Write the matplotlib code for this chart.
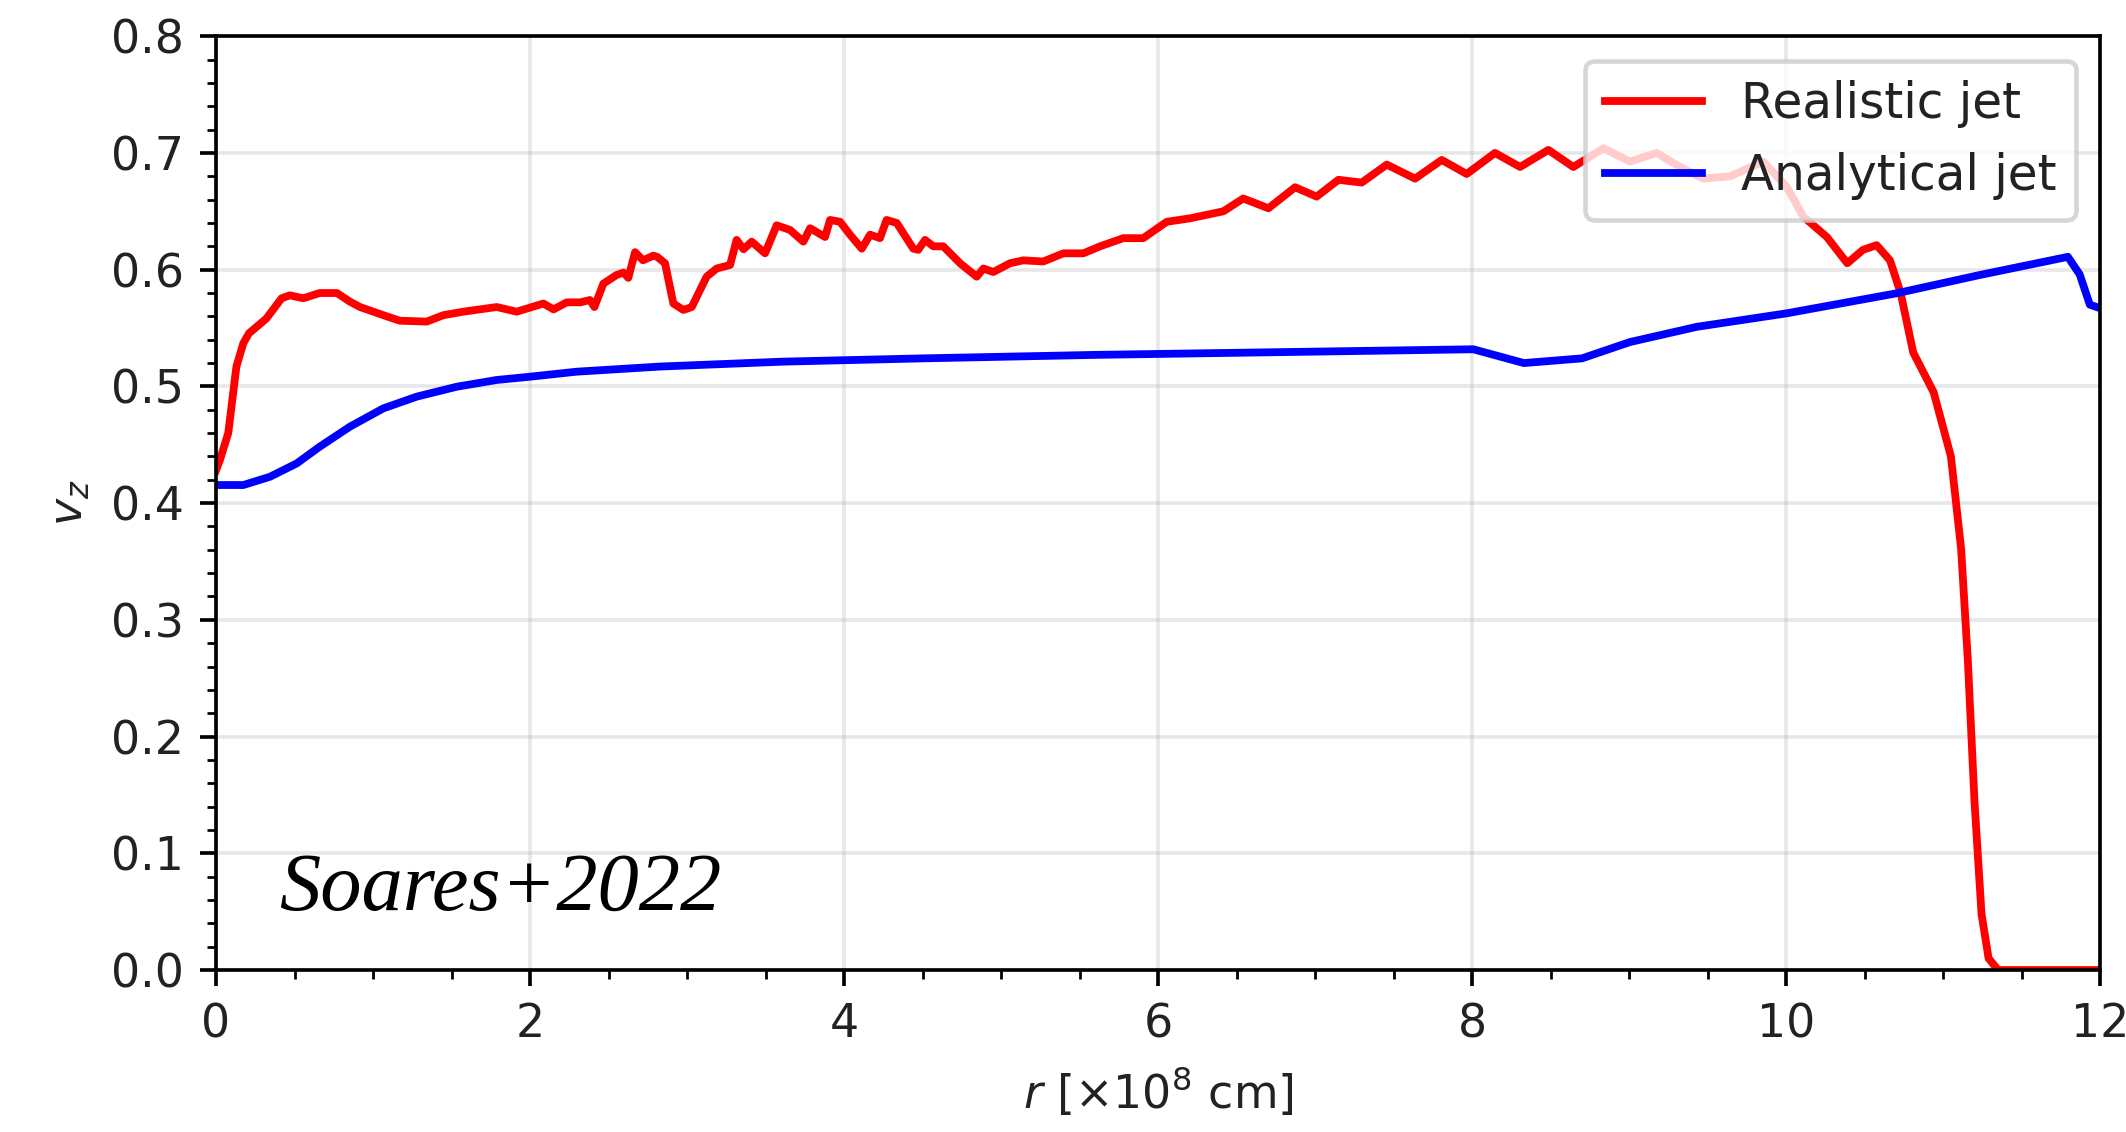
import matplotlib
matplotlib.use("Agg")
import matplotlib.pyplot as plt
from matplotlib.ticker import MultipleLocator

# Realistic jet
realistic_r = [0.0, 0.025, 0.078, 0.13, 0.174, 0.21, 0.32, 0.418, 0.47, 0.556,
               0.66, 0.77, 0.853, 0.917, 1.066, 1.17, 1.342, 1.448, 1.575, 1.788,
               1.915, 2.085, 2.15, 2.234, 2.32, 2.382, 2.41, 2.467, 2.552, 2.595,
               2.626, 2.669, 2.72, 2.785, 2.81, 2.86, 2.913, 2.977, 3.03, 3.125,
               3.189, 3.274, 3.316, 3.36, 3.412, 3.497, 3.571, 3.656, 3.741, 3.784,
               3.879, 3.911, 3.975, 4.038, 4.113, 4.166, 4.229, 4.271, 4.336, 4.441,
               4.473, 4.516, 4.569, 4.632, 4.739, 4.845, 4.888, 4.951, 5.057, 5.142,
               5.269, 5.397, 5.524, 5.631, 5.779, 5.906, 6.055, 6.204, 6.416, 6.543,
               6.703, 6.873, 7.01, 7.149, 7.297, 7.457, 7.637, 7.807, 7.966, 8.146,
               8.306, 8.486, 8.645, 8.837, 9.006, 9.176, 9.325, 9.473, 9.643, 9.855,
               10.004, 10.11, 10.26, 10.39, 10.49, 10.577, 10.662, 10.73, 10.81, 10.94,
               11.05, 11.115, 11.158, 11.2, 11.245, 11.29, 11.35, 12.0]
realistic_v = [0.428, 0.437, 0.46, 0.517, 0.537, 0.5455, 0.558, 0.5755, 0.578, 0.5755,
               0.58, 0.58, 0.5726, 0.568, 0.561, 0.5563, 0.5555, 0.561, 0.564, 0.568,
               0.564, 0.571, 0.566, 0.572, 0.572, 0.574, 0.568, 0.588, 0.5955, 0.5975,
               0.593, 0.615, 0.608, 0.612, 0.611, 0.6055, 0.571, 0.5655, 0.568, 0.594,
               0.601, 0.604, 0.6255, 0.6175, 0.624, 0.614, 0.638, 0.634, 0.624, 0.6355,
               0.628, 0.6426, 0.641, 0.63, 0.618, 0.63, 0.627, 0.6426, 0.64, 0.618,
               0.617, 0.6255, 0.62, 0.62, 0.6055, 0.594, 0.601, 0.598, 0.6055, 0.608,
               0.607, 0.614, 0.614, 0.62, 0.627, 0.627, 0.641, 0.644, 0.65, 0.661,
               0.6526, 0.6706, 0.6626, 0.677, 0.6746, 0.69, 0.678, 0.694, 0.682, 0.7,
               0.688, 0.7026, 0.688, 0.704, 0.6926, 0.7, 0.688, 0.678, 0.68, 0.6926,
               0.671, 0.6454, 0.628, 0.6055, 0.617, 0.621, 0.608, 0.58, 0.529, 0.495,
               0.44, 0.361, 0.265, 0.145, 0.048, 0.01, 0.0, 0.0]

# Analytical jet
analytical_r = [0.0, 0.174, 0.344, 0.514, 0.66, 0.853, 1.066, 1.278, 1.533, 1.788,
                2.0, 2.297, 2.828, 3.61, 4.5, 5.6, 8.008, 8.33, 8.7, 9.006,
                9.43, 10.004, 10.705, 11.236, 11.795, 11.87, 11.935, 12.0]
analytical_v = [0.4155, 0.4155, 0.4226, 0.434, 0.4483, 0.4655, 0.4812, 0.4912, 0.4997, 0.5055,
                0.5083, 0.5126, 0.517, 0.5212, 0.524, 0.527, 0.5318, 0.52, 0.524, 0.538,
                0.551, 0.5626, 0.5798, 0.5955, 0.611, 0.596, 0.57, 0.567]

DPI = 330
fig = plt.figure(figsize=(2126 / DPI, 1132 / DPI), dpi=DPI)
ax = fig.add_axes([0.1016, 0.1431, 0.9878 - 0.1016, 0.968 - 0.1431])

ax.plot(realistic_r, realistic_v, color='red', lw=1.7, label='Realistic jet')
ax.plot(analytical_r, analytical_v, color='blue', lw=1.7, label='Analytical jet')

ax.set_xlim(0, 12)
ax.set_ylim(0, 0.8)
ax.xaxis.set_major_locator(MultipleLocator(2))
ax.xaxis.set_minor_locator(MultipleLocator(0.5))
ax.yaxis.set_major_locator(MultipleLocator(0.1))
ax.yaxis.set_minor_locator(MultipleLocator(0.02))
ax.tick_params(labelcolor='#222222')
ax.grid(True, which='major', color='#b0b0b0', alpha=0.3, lw=0.8)

ax.set_xlabel(r'$r$ [$\times10^8$ cm]', color='#222222')
ax.set_ylabel(r'$v_z$', color='#222222')
leg = ax.legend(loc='upper right', fontsize=10.6)
for t in leg.get_texts():
    t.set_color('#222222')

ax.text(0.0334, 0.065, 'Soares+2022', transform=ax.transAxes,
        family='Liberation Serif', style='italic', fontsize=18, va='baseline')

fig.savefig('out.png', dpi=DPI)
